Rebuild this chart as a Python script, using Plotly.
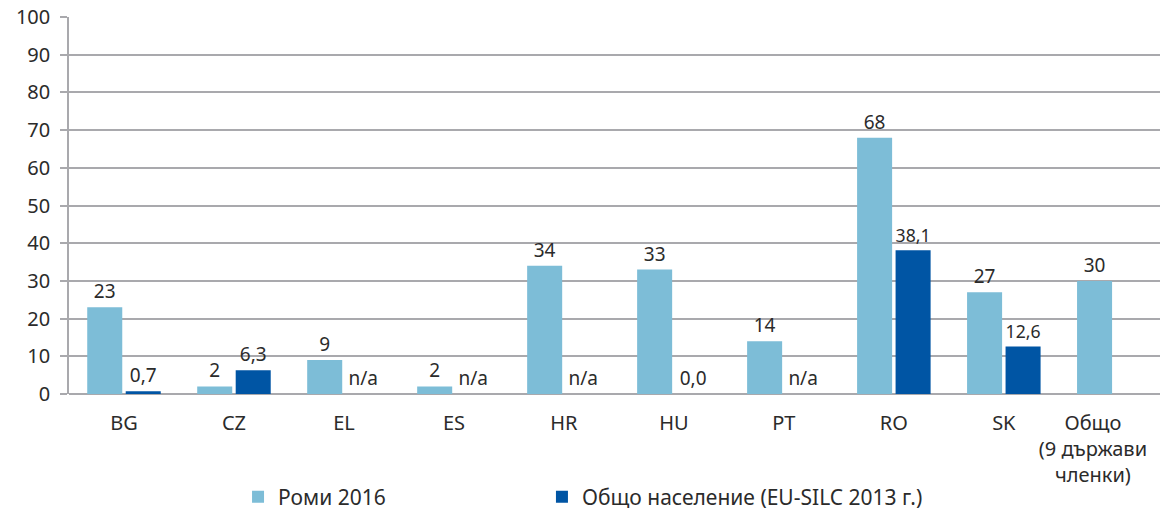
import plotly.graph_objects as go

categories = ["BG", "CZ", "EL", "ES", "HR", "HU", "PT", "RO", "SK", "Общо<br>(9 държави<br>членки)"]
roma_2016 = [23, 2, 9, 2, 34, 33, 14, 68, 27, 30]
general_pop = [0.7, 6.3, None, None, None, 0.0, None, 38.1, 12.6, None]
general_labels = ["0,7", "6,3", "n/a", "n/a", "n/a", "0,0", "n/a", "38,1", "12,6", ""]
y_ticks = [0, 10, 20, 30, 40, 50, 60, 70, 80, 90, 100]

LIGHT = "#7dbdd7"
DARK = "#0055a4"
GRID = "#a9a9ad"
TEXT = "#2b2b2b"
FONT = "Noto Sans"

xpos = list(range(len(categories)))
# last label sits left-shifted so it fits inside the picture (as in the original)
tick_positions = xpos[:-1] + [xpos[-1] - 0.19]

fig = go.Figure()
fig.add_trace(go.Bar(
    name="Роми 2016", x=xpos, y=roma_2016,
    marker=dict(color=LIGHT, line=dict(width=0)),
    text=[str(v) for v in roma_2016], textposition="outside",
    textfont=dict(size=19, color=TEXT, family=FONT), cliponaxis=False,
    legend="legend",
))
fig.add_trace(go.Bar(
    name="Общо население (EU-SILC 2013 г.)", x=xpos,
    y=[v if v is not None else 0 for v in general_pop],
    marker=dict(color=DARK, line=dict(width=0)),
    text=general_labels, textposition="outside",
    textfont=dict(size=19, color=TEXT, family=FONT), cliponaxis=False,
    legend="legend2",
))

legend_common = dict(orientation="h", xanchor="left", yanchor="middle",
                     xref="container", yref="container",
                     font=dict(size=21, color=TEXT, family=FONT),
                     itemclick=False, itemdoubleclick=False, bgcolor="rgba(0,0,0,0)")
fig.update_layout(
    width=1160, height=514,
    margin=dict(l=69, r=0, t=17, b=120, autoexpand=False),
    paper_bgcolor="white", plot_bgcolor="white",
    barmode="group", bargap=0.3, bargroupgap=0.09,
    font=dict(family=FONT, size=20, color=TEXT),
    showlegend=True,
    legend=dict(x=0.2052, y=0.033, **legend_common),
    legend2=dict(x=0.4672, y=0.033, **legend_common),
)
fig.update_xaxes(
    range=[-0.5, 9.42], showgrid=False, showline=False, ticks="", zeroline=False,
    tickmode="array", tickvals=tick_positions, ticktext=categories,
    tickfont=dict(size=20, color=TEXT, family=FONT), ticklabelstandoff=15,
    automargin=False,
)
fig.update_yaxes(
    range=[0, 100], tickvals=y_ticks, showgrid=True, gridcolor=GRID, gridwidth=1.5,
    showline=True, linecolor=GRID, linewidth=1.5, ticks="outside", ticklen=7,
    tickcolor=GRID, tickwidth=1.5, zeroline=True, zerolinecolor=GRID, zerolinewidth=1.5,
    tickfont=dict(size=20, color=TEXT, family=FONT), ticklabelstandoff=6,
    automargin=False,
)

fig.write_html("out.html", config={"displayModeBar": False},
               post_script="document.body.style.margin='0';document.body.style.overflow='hidden';")
